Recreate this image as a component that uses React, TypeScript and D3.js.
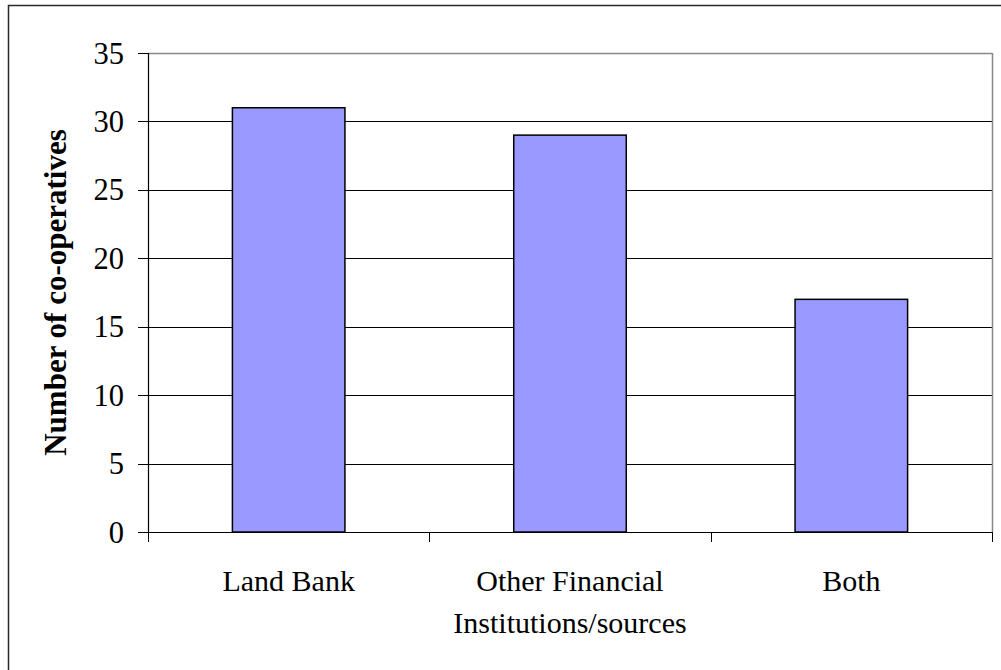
import React from "react";
import * as d3 from "d3";

const categories: string[][] = [["Land Bank"], ["Other Financial", "Institutions/sources"], ["Both"]];
const categoryKeys: string[] = ["Land Bank", "Other Financial Institutions/sources", "Both"];
const values: number[] = [31, 29, 17];
const yTicks: number[] = [0, 5, 10, 15, 20, 25, 30, 35];
const yTitle = "Number of co-operatives";

const W = 1001;
const H = 670;
const plot = { left: 148, right: 992, top: 53, bottom: 532 };

export default function App() {
  const y = d3.scaleLinear().domain([0, 35]).range([plot.bottom, plot.top]);
  const x = d3
    .scaleBand<string>()
    .domain(categoryKeys)
    .range([plot.left, plot.right])
    .paddingInner(0.6)
    .paddingOuter(0.3);
  const step = x.step();
  const catEdges = d3.range(categoryKeys.length + 1).map((i) => plot.left + i * step);
  const font = "'Liberation Serif', serif";

  return (
    <svg
      width={W}
      height={H}
      style={{ position: "absolute", left: 0, top: 0, background: "#fff" }}
      fontFamily={font}
    >
      <rect x={0} y={0} width={W} height={H} fill="#fff" />
      {/* outer chart border */}
      <rect x={8.5} y={5.5} width={1100} height={800} fill="none" stroke="#2a2a2a" strokeWidth={1.5} />

      {/* gridlines */}
      {yTicks.filter((t) => t !== 0 && t !== 35).map((t) => (
        <line key={"g" + t} x1={plot.left} x2={plot.right} y1={Math.round(y(t)) + 0.5} y2={Math.round(y(t)) + 0.5} stroke="#000" strokeWidth={1} />
      ))}
      {/* plot area border top/right */}
      <line x1={plot.left} x2={plot.right} y1={plot.top + 0.5} y2={plot.top + 0.5} stroke="#888" strokeWidth={1.5} />
      <line x1={plot.right + 0.5} x2={plot.right + 0.5} y1={plot.top} y2={plot.bottom} stroke="#888" strokeWidth={1.5} />

      {/* bars */}
      {values.map((v, i) => (
        <rect
          key={"b" + i}
          x={x(categoryKeys[i])!}
          y={y(v)}
          width={x.bandwidth()}
          height={y(0) - y(v)}
          fill="#9999FF"
          stroke="#000"
          strokeWidth={1.5}
        />
      ))}

      {/* y axis */}
      <line x1={plot.left + 0.5} x2={plot.left + 0.5} y1={plot.top} y2={plot.bottom} stroke="#000" strokeWidth={1.2} />
      {yTicks.map((t) => (
        <g key={"t" + t}>
          <line x1={plot.left - 10} x2={plot.left} y1={Math.round(y(t)) + 0.5} y2={Math.round(y(t)) + 0.5} stroke="#000" strokeWidth={1} />
          <text x={124} y={y(t) + 10.5} textAnchor="end" fontSize={30.5} fill="#000">
            {t}
          </text>
        </g>
      ))}

      {/* x axis */}
      <line x1={plot.left} x2={plot.right} y1={plot.bottom + 0.5} y2={plot.bottom + 0.5} stroke="#000" strokeWidth={1.2} />
      {catEdges.map((e, i) => (
        <line key={"xt" + i} x1={Math.round(e) + 0.5} x2={Math.round(e) + 0.5} y1={plot.bottom} y2={plot.bottom + 10} stroke="#000" strokeWidth={1} />
      ))}
      {categories.map((lines, i) => (
        <text key={"xl" + i} textAnchor="middle" fontSize={30} fill="#000">
          {lines.map((ln, j) => (
            <tspan key={j} x={x(categoryKeys[i])! + x.bandwidth() / 2} y={591 + j * 41.7}>
              {ln}
            </tspan>
          ))}
        </text>
      ))}

      {/* y title */}
      <text
        transform={`translate(66, ${(plot.top + plot.bottom) / 2}) rotate(-90)`}
        textAnchor="middle"
        fontSize={31}
        fontWeight="bold"
        fill="#000"
      >
        {yTitle}
      </text>
    </svg>
  );
}
